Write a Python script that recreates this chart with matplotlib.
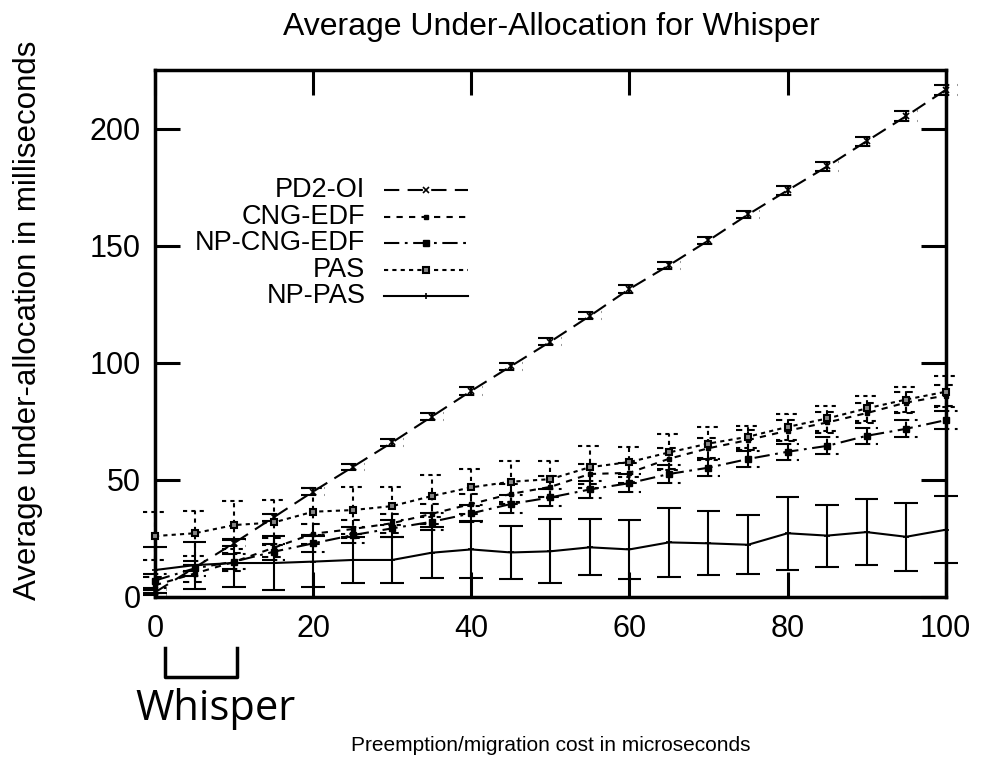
import numpy as np
import matplotlib.pyplot as plt
from matplotlib.lines import Line2D

plt.rcParams['font.family'] = ['Liberation Sans', 'DejaVu Sans']
plt.rcParams['lines.scale_dashes'] = False

# preemption/migration cost (microseconds)
cost = [0, 5, 10, 15, 20, 25, 30, 35, 40, 45, 50, 55, 60, 65, 70, 75, 80, 85, 90, 95, 100]

pd2_oi = [2, 12.5, 23, 34, 45, 55.5, 66, 77, 88, 98.5, 109, 120, 131.5, 141.6, 152.2,
          163.3, 173.6, 183.8, 194.6, 205.3, 216.5]
pd2_oi_err = [1.0, 1.2, 1.3, 1.4, 1.5, 1.4, 1.5, 1.5, 1.6, 1.5, 1.6, 1.5, 1.6, 1.6, 1.7,
              1.7, 1.8, 1.8, 1.9, 2.0, 2.1]

cng_edf = [5, 10, 15, 21, 27, 29, 31.5, 35.5, 39.7, 44, 47, 52.5, 53, 59, 63.5,
           67, 71, 74.5, 78.5, 83, 86]
cng_edf_err = [3.5, 3.6, 3.8, 4.0, 4.2, 4.0, 4.1, 4.3, 4.2, 4.4, 4.5, 4.3, 4.4, 4.5, 4.3,
               4.4, 4.5, 4.6, 4.4, 4.5, 4.6]

np_cng_edf = [7, 12.2, 15.1, 19.3, 22.9, 26.4, 29.3, 32.1, 35.7, 39.7, 42.5, 45.9, 48.6,
              52.5, 55.2, 58.9, 62, 64.5, 68.8, 71.8, 75.5]
np_cng_edf_err = [3.0, 3.2, 3.3, 3.5, 3.6, 3.4, 3.5, 3.7, 3.6, 3.8, 3.7, 3.6, 3.8, 3.7,
                  3.6, 3.5, 3.4, 3.6, 3.5, 3.6, 3.7]

pas = [26, 27.2, 30.7, 31.8, 36.4, 37.1, 38.8, 43.1, 46.8, 49.2, 50.3, 55.4, 57.6, 61.7,
       65.5, 68.4, 72.6, 76.2, 80.5, 84.3, 87.6]
pas_err = [10.4, 9.5, 10.4, 9.6, 10, 10, 8.2, 9, 8, 8.8, 7.7, 9, 6.5, 7.7, 7, 4.6, 5.7,
           5.4, 5.4, 5.4, 6.6]

np_pas = [11.5, 13.6, 14.5, 14.5, 15.1, 15.8, 15.8, 18.9, 20.3, 19.0, 19.5, 21.2, 20.3,
          23.3, 22.9, 22.3, 27.2, 26.2, 27.7, 25.7, 28.7]
np_pas_err = [10, 10, 10.3, 11.5, 11, 10, 10, 11, 12.3, 11.5, 13.7, 12, 12.5, 14.7, 13.7,
              12.7, 15.6, 13.2, 14.2, 14.5, 14.3]

labels = ['PD2-OI', 'CNG-EDF', 'NP-CNG-EDF', 'PAS', 'NP-PAS']

styles = [
    dict(ls=(0, (11, 6)), marker='x', ms=4, mfc='black', mew=1.2),
    dict(ls=(0, (4.5, 4.5)), marker='s', ms=3, mfc='black', mew=1),
    dict(ls=(0, (11, 4, 2, 4)), marker='s', ms=5, mfc='black', mew=1),
    dict(ls=(0, (3, 3)), marker='s', ms=4.5, mfc='#888888', mew=1.5),
    dict(ls='-', marker='+', ms=4, mfc='black', mew=1.2),
]

fig = plt.figure(figsize=(9.81, 7.69), dpi=100)
ax = fig.add_axes([0.158, 0.2237, 0.806, 0.6853])

x = np.array(cost, dtype=float)
series = [(pd2_oi, pd2_oi_err), (cng_edf, cng_edf_err), (np_cng_edf, np_cng_edf_err),
          (pas, pas_err), (np_pas, np_pas_err)]
cap = 1.5
for (y, e), st in zip(series, styles):
    y = np.array(y)
    e = np.array(e)
    ax.plot(x, y, color='black', lw=1.5, ls=st['ls'], marker=st['marker'], ms=st['ms'],
            mfc=st['mfc'], mec='black', mew=st['mew'], clip_on=False, zorder=3)
    ax.vlines(x, y - e, y + e, colors='black', lw=1.5, linestyles=st['ls'],
              clip_on=False, zorder=2)
    ax.hlines(y - e, x - cap, x + cap, colors='black', lw=1.5, linestyles=st['ls'],
              clip_on=False, zorder=2)
    ax.hlines(y + e, x - cap, x + cap, colors='black', lw=1.5, linestyles=st['ls'],
              clip_on=False, zorder=2)

ax.set_xlim(0, 100)
ax.set_ylim(0, 225)
ax.set_xticks([0, 20, 40, 60, 80, 100])
ax.set_yticks([0, 50, 100, 150, 200])
ax.tick_params(direction='in', length=18, width=2.2, labelsize=22, top=True, right=True)
ax.tick_params(axis='x', pad=12)
ax.tick_params(axis='y', pad=10)
for s in ax.spines.values():
    s.set_linewidth(2.5)

# legend: right-aligned labels, line sample to the right
for i, (lab, st) in enumerate(zip(labels, styles)):
    yy = 0.772 - i * 0.0503
    ax.text(0.266, yy, lab, transform=ax.transAxes, ha='right', va='center', fontsize=19.5)
    ax.add_line(Line2D([0.29, 0.396], [yy, yy], transform=ax.transAxes, color='black',
                       lw=1.5, ls=st['ls']))
    ax.add_line(Line2D([0.343], [yy], transform=ax.transAxes, color='black',
                       marker=st['marker'], ms=st['ms'], mfc=st['mfc'], mec='black',
                       mew=st['mew'], ls='none'))

fig.text(0.5617, 0.965, 'Average Under-Allocation for Whisper', ha='center', va='center',
         fontsize=23)
fig.text(0.029, 0.584, 'Average under-allocation in milliseconds', rotation=90,
         ha='center', va='center', fontsize=22.5)
fig.text(0.5617, 0.031, 'Preemption/migration cost in microseconds', ha='center',
         va='center', fontsize=15)

# Whisper bracket annotation
fig.add_artist(Line2D([0.168, 0.168, 0.2416, 0.2416], [0.1574, 0.1196, 0.1196, 0.1574],
                      transform=fig.transFigure, color='black', lw=2.5))
fig.text(0.1376, 0.064, 'Whisper', ha='left', va='baseline', fontsize=30,
         family=['Open Sans', 'DejaVu Sans'])

fig.savefig('out.png', dpi=100)
